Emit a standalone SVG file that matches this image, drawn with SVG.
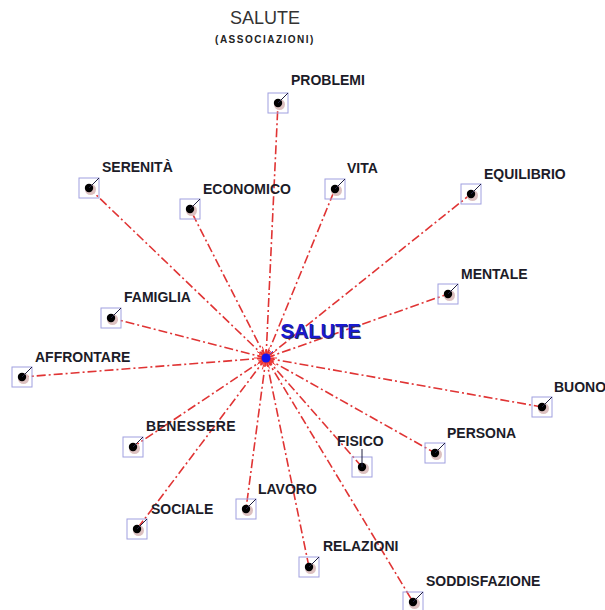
<svg xmlns="http://www.w3.org/2000/svg" width="605" height="610" viewBox="0 0 605 610">
<defs>
<style>
.lbl{font-family:"Liberation Sans",Arial,sans-serif;font-weight:bold;font-size:14px;fill:#1c1c28;}
.con{stroke:#e03434;stroke-width:1.6;stroke-dasharray:9 3 2 3;fill:none;}
.box{fill:none;stroke:#a0a0e0;stroke-width:1;}
.sh{fill:#dcc0c0;}
.dot{fill:#000;}
.tick{stroke:#202040;stroke-width:1;}
.sp{stroke:#f03030;stroke-width:1;}
</style>
</defs>
<rect width="605" height="610" fill="#fff"/>
<text x="265" y="24" text-anchor="middle" font-family="Liberation Sans,Arial,sans-serif" font-size="18" fill="#333">SALUTE</text>
<text x="265" y="43" text-anchor="middle" font-family="Liberation Sans,Arial,sans-serif" font-size="10" font-weight="bold" letter-spacing="1.5" fill="#222">(ASSOCIAZIONI)</text>
<g id="connectors">
<line class="con" x1="266" y1="358" x2="278" y2="103"/>
<line class="con" x1="266" y1="358" x2="89" y2="188"/>
<line class="con" x1="266" y1="358" x2="190" y2="209"/>
<line class="con" x1="266" y1="358" x2="335" y2="189"/>
<line class="con" x1="266" y1="358" x2="471" y2="194"/>
<line class="con" x1="266" y1="358" x2="448" y2="294"/>
<line class="con" x1="266" y1="358" x2="111" y2="318"/>
<line class="con" x1="266" y1="358" x2="22" y2="377"/>
<line class="con" x1="266" y1="358" x2="542" y2="407"/>
<line class="con" x1="266" y1="358" x2="133" y2="447"/>
<line class="con" x1="266" y1="358" x2="435" y2="453"/>
<line class="con" x1="266" y1="358" x2="362" y2="467"/>
<line class="con" x1="266" y1="358" x2="137" y2="529"/>
<line class="con" x1="266" y1="358" x2="246" y2="509"/>
<line class="con" x1="266" y1="358" x2="309" y2="567"/>
<line class="con" x1="266" y1="358" x2="413" y2="602"/>
</g>
<g id="center">
<circle cx="266" cy="358" r="5" fill="none" stroke="#f03030" stroke-width="6" stroke-dasharray="0.6 1"/>
<g class="sp">
<line x1="266" y1="358" x2="277" y2="358"/><line x1="266" y1="358" x2="273.6" y2="360.5"/>
<line x1="266" y1="358" x2="275.7" y2="365.1"/><line x1="266" y1="358" x2="271.3" y2="365.3"/>
<line x1="266" y1="358" x2="269.4" y2="368.5"/><line x1="266" y1="358" x2="266" y2="366"/>
<line x1="266" y1="358" x2="262.3" y2="369.4"/><line x1="266" y1="358" x2="260.7" y2="365.3"/>
<line x1="266" y1="358" x2="257.1" y2="364.5"/><line x1="266" y1="358" x2="258.4" y2="360.5"/>
<line x1="266" y1="358" x2="254" y2="358"/><line x1="266" y1="358" x2="257.4" y2="355.2"/>
<line x1="266" y1="358" x2="257.1" y2="351.5"/><line x1="266" y1="358" x2="261.3" y2="351.5"/>
<line x1="266" y1="358" x2="262.3" y2="346.6"/><line x1="266" y1="358" x2="266" y2="349"/>
<line x1="266" y1="358" x2="269.4" y2="347.5"/><line x1="266" y1="358" x2="270.7" y2="351.5"/>
<line x1="266" y1="358" x2="275.7" y2="350.9"/><line x1="266" y1="358" x2="274.6" y2="355.2"/>
</g>
<line x1="266" y1="358" x2="273" y2="351" stroke="#6040c0" stroke-width="1"/>
<circle cx="266" cy="358" r="4.5" fill="#1414f0"/>
<text x="281.5" y="338.5" font-family="Liberation Sans,Arial,sans-serif" font-size="20" font-weight="bold" fill="#30305a">SALUTE</text>
<text x="280.5" y="337.5" font-family="Liberation Sans,Arial,sans-serif" font-size="20" font-weight="bold" fill="#1a1ad0">SALUTE</text>
</g>
<g id="n-problemi"><rect class="box" x="268" y="93" width="20" height="20"/><circle class="sh" cx="279.5" cy="104.5" r="5.5"/><circle class="dot" cx="278" cy="103" r="4.2"/><line class="tick" x1="278" y1="103" x2="288" y2="93"/><text class="lbl" x="291" y="85">PROBLEMI</text></g>
<g id="n-serenita"><rect class="box" x="79" y="178" width="20" height="20"/><circle class="sh" cx="90.5" cy="189.5" r="5.5"/><circle class="dot" cx="89" cy="188" r="4.2"/><line class="tick" x1="89" y1="188" x2="99" y2="178"/><text class="lbl" x="102" y="172">SERENITÀ</text></g>
<g id="n-economico"><rect class="box" x="180" y="199" width="20" height="20"/><circle class="sh" cx="191.5" cy="210.5" r="5.5"/><circle class="dot" cx="190" cy="209" r="4.2"/><line class="tick" x1="190" y1="209" x2="200" y2="199"/><text class="lbl" x="203" y="194">ECONOMICO</text></g>
<g id="n-vita"><rect class="box" x="325" y="179" width="20" height="20"/><circle class="sh" cx="336.5" cy="190.5" r="5.5"/><circle class="dot" cx="335" cy="189" r="4.2"/><line class="tick" x1="335" y1="189" x2="345" y2="179"/><text class="lbl" x="347" y="173">VITA</text></g>
<g id="n-equilibrio"><rect class="box" x="461" y="184" width="20" height="20"/><circle class="sh" cx="472.5" cy="195.5" r="5.5"/><circle class="dot" cx="471" cy="194" r="4.2"/><line class="tick" x1="471" y1="194" x2="481" y2="184"/><text class="lbl" x="484" y="179">EQUILIBRIO</text></g>
<g id="n-mentale"><rect class="box" x="438" y="284" width="20" height="20"/><circle class="sh" cx="449.5" cy="295.5" r="5.5"/><circle class="dot" cx="448" cy="294" r="4.2"/><line class="tick" x1="448" y1="294" x2="458" y2="284"/><text class="lbl" x="461" y="279">MENTALE</text></g>
<g id="n-famiglia"><rect class="box" x="101" y="308" width="20" height="20"/><circle class="sh" cx="112.5" cy="319.5" r="5.5"/><circle class="dot" cx="111" cy="318" r="4.2"/><line class="tick" x1="111" y1="318" x2="121" y2="308"/><text class="lbl" x="124" y="302">FAMIGLIA</text></g>
<g id="n-affrontare"><rect class="box" x="12" y="367" width="20" height="20"/><circle class="sh" cx="23.5" cy="378.5" r="5.5"/><circle class="dot" cx="22" cy="377" r="4.2"/><line class="tick" x1="22" y1="377" x2="32" y2="367"/><text class="lbl" x="35" y="362">AFFRONTARE</text></g>
<g id="n-buono"><rect class="box" x="532" y="397" width="20" height="20"/><circle class="sh" cx="543.5" cy="408.5" r="5.5"/><circle class="dot" cx="542" cy="407" r="4.2"/><line class="tick" x1="542" y1="407" x2="552" y2="397"/><text class="lbl" x="554" y="392">BUONO</text></g>
<g id="n-benessere"><rect class="box" x="123" y="437" width="20" height="20"/><circle class="sh" cx="134.5" cy="448.5" r="5.5"/><circle class="dot" cx="133" cy="447" r="4.2"/><line class="tick" x1="133" y1="447" x2="143" y2="437"/><text class="lbl" x="146" y="431" letter-spacing="0.4">BENESSERE</text></g>
<g id="n-persona"><rect class="box" x="425" y="443" width="20" height="20"/><circle class="sh" cx="436.5" cy="454.5" r="5.5"/><circle class="dot" cx="435" cy="453" r="4.2"/><line class="tick" x1="435" y1="453" x2="445" y2="443"/><text class="lbl" x="447" y="438">PERSONA</text></g>
<g id="n-fisico"><rect class="box" x="352" y="457" width="20" height="20"/><circle class="sh" cx="363.5" cy="468.5" r="5.5"/><circle class="dot" cx="362" cy="467" r="4.2"/><line class="tick" x1="362" y1="467" x2="362" y2="449"/><text class="lbl" x="337" y="446">FISICO</text></g>
<g id="n-sociale"><rect class="box" x="127" y="519" width="20" height="20"/><circle class="sh" cx="138.5" cy="530.5" r="5.5"/><circle class="dot" cx="137" cy="529" r="4.2"/><line class="tick" x1="137" y1="529" x2="147" y2="519"/><text class="lbl" x="151" y="514">SOCIALE</text></g>
<g id="n-lavoro"><rect class="box" x="236" y="499" width="20" height="20"/><circle class="sh" cx="247.5" cy="510.5" r="5.5"/><circle class="dot" cx="246" cy="509" r="4.2"/><line class="tick" x1="246" y1="509" x2="256" y2="499"/><text class="lbl" x="258" y="494">LAVORO</text></g>
<g id="n-relazioni"><rect class="box" x="299" y="557" width="20" height="20"/><circle class="sh" cx="310.5" cy="568.5" r="5.5"/><circle class="dot" cx="309" cy="567" r="4.2"/><line class="tick" x1="309" y1="567" x2="319" y2="557"/><text class="lbl" x="323" y="551">RELAZIONI</text></g>
<g id="n-soddisfazione"><rect class="box" x="403" y="592" width="20" height="20"/><circle class="sh" cx="414.5" cy="603.5" r="5.5"/><circle class="dot" cx="413" cy="602" r="4.2"/><line class="tick" x1="413" y1="602" x2="423" y2="592"/><text class="lbl" x="426" y="586">SODDISFAZIONE</text></g>
</svg>
